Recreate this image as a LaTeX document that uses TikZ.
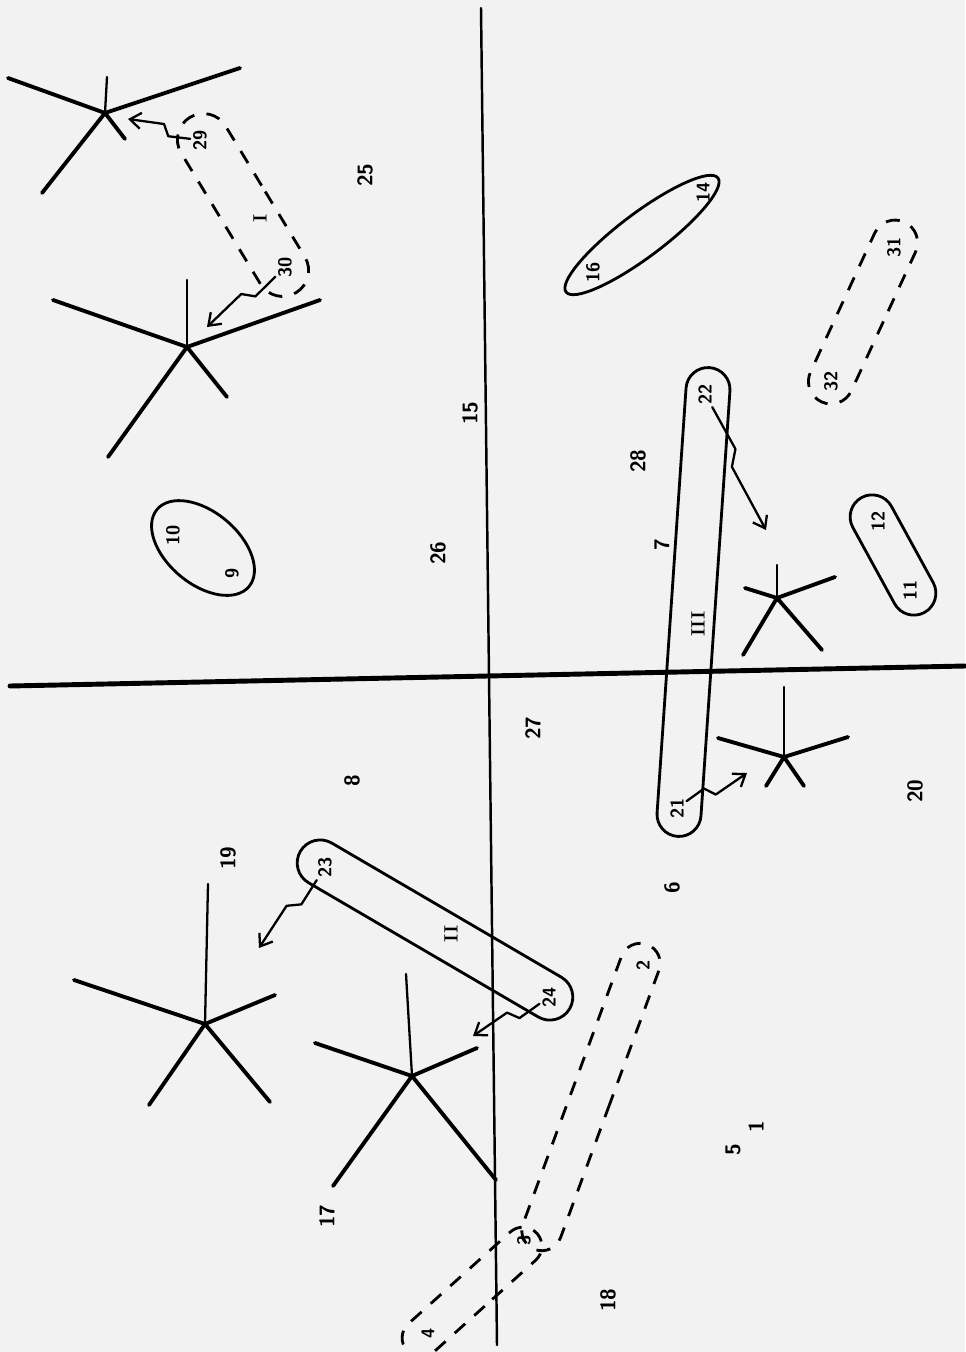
\documentclass[tikz,border=0pt]{standalone}
\usepackage{tikz}
\usetikzlibrary{arrows.meta,calc,shapes.misc,shapes.geometric}

\begin{document}
\begin{tikzpicture}[x=0.02cm, y=-0.02cm,
  axis/.style={line width=1.4pt, line cap=round},
  mainaxis/.style={line width=2.8pt, line cap=round},
  ray/.style={line width=2.2pt, line cap=round},
  thinray/.style={line width=1.3pt, line cap=round},
  loop/.style={draw, line width=1.6pt, shape=rounded rectangle, inner sep=0pt},
  oval/.style={draw, line width=1.6pt, shape=ellipse, inner sep=0pt},
  dashloop/.style={loop, dash pattern=on 8pt off 7pt},
  tag/.style={font=\sffamily\bfseries\large, rotate=90, inner sep=1pt},
  hand/.style={font=\sffamily\bfseries\fontsize{10.5}{12}\selectfont, rotate=90, inner sep=1.5pt},
  roman/.style={font=\rmfamily\bfseries\fontsize{11}{13}\selectfont, rotate=90, inner sep=1pt},
  zap/.style={-{Straight Barb[length=2.2mm, width=3.2mm]}, line width=1.3pt,
    line cap=round, line join=round,
    to path={-- ($(\tikztostart)!.42!(\tikztotarget)!3pt!90:(\tikztotarget)$)
      -- ($(\tikztostart)!.52!(\tikztotarget)!3pt!-90:(\tikztotarget)$)
      -- (\tikztotarget)}}
]
\useasboundingbox (0,0) rectangle (965,1352);
\fill[black!5] (0,0) rectangle (965,1352);

% axes
\coordinate (west) at (10,686);
\coordinate (east) at (965,666);
\coordinate (north) at (481,8);
\coordinate (south) at (497,1345);
\draw[mainaxis] (west) -- (east);
\draw[axis] (north) -- (south);

% groupings
\node[dashloop, minimum width=4.1cm, minimum height=1.04cm, rotate=-58.8] (loopI) at (243,205) {};
\node[loop, minimum width=6.24cm, minimum height=0.92cm, rotate=-30.3] (loopII) at (435,930) {};
\node[loop, minimum width=9.4cm, minimum height=0.88cm, rotate=-93.9] (loopIII) at (693.5,602) {};
\node[dashloop, minimum width=6.5cm, minimum height=0.8cm, rotate=-110.2] (loopA) at (591,1097) {};
\node[dashloop, minimum width=3.5cm, minimum height=0.76cm, rotate=-138] (loopB) at (472,1292) {};
\node[dashloop, minimum width=3.96cm, minimum height=0.9cm, rotate=-114.8] (loopC) at (863,312) {};
\node[oval, minimum width=3.8cm, minimum height=0.88cm, rotate=36.9] (loopD) at (642,235) {};
\node[oval, minimum width=2.4cm, minimum height=1.44cm, rotate=-40] (loopE) at (203,548) {};
\node[loop, minimum width=2.62cm, minimum height=0.88cm, rotate=-61.3] (loopF) at (893,555) {};

% points inside groupings
\node[hand] (n29) at (200,140) {29};
\node[hand] (n30) at (285,267) {30};
\node[roman] (rI) at (260,218) {I};
\node[hand] (n16) at (593,272) {16};
\node[hand] (n14) at (703,192) {14};
\node[hand] (n22) at (705,394) {22};
\node[hand] (n21) at (677,808) {21};
\node[roman] (rIII) at (698,624) {III};
\node[hand] (n32) at (831,381) {32};
\node[hand] (n31) at (894,247) {31};
\node[hand] (n12) at (878,521) {12};
\node[hand] (n11) at (910,590) {11};
\node[hand] (n10) at (173,535) {10};
\node[hand] (n9) at (232,573) {9};
\node[hand] (n23) at (325,867) {23};
\node[hand] (n24) at (549,997) {24};
\node[roman] (rII) at (451,934) {II};
\node[hand] (n2) at (643,965) {2};
\node[hand] (n3) at (524,1240) {3};
\node[hand] (n4) at (428,1333) {4};

% free points
\node[tag] (n25) at (365,175) {25};
\node[tag] (n15) at (470,413) {15};
\node[tag] (n26) at (438,553) {26};
\node[tag] (n28) at (638,461) {28};
\node[tag] (n7) at (662,545) {7};
\node[tag] (n8) at (352,781) {8};
\node[tag] (n27) at (533,728) {27};
\node[tag] (n19) at (228,858) {19};
\node[tag] (n6) at (672,888) {6};
\node[tag] (n20) at (915,791) {20};
\node[tag] (n17) at (327,1216) {17};
\node[tag] (n18) at (608,1300) {18};
\node[tag] (n5) at (733,1150) {5};
\node[tag] (n1) at (756,1127) {1};

% stars
\coordinate (sA) at (105,113);
\draw[ray] (sA) -- (8,78) (sA) -- (240,68) (sA) -- (125,139) (sA) -- (42,193);
\draw[thinray] (sA) -- (107,77);
\coordinate (sB) at (187,347);
\draw[ray] (sB) -- (53,300) (sB) -- (320,300) (sB) -- (227,397) (sB) -- (108,457);
\draw[thinray] (sB) -- (187,280);
\coordinate (sC) at (777,598);
\draw[ray] (sC) -- (745,588) (sC) -- (835,577) (sC) -- (822,650) (sC) -- (743,655);
\draw[thinray] (sC) -- (777,565);
\coordinate (sD) at (784,757);
\draw[ray] (sD) -- (718,738) (sD) -- (848,737) (sD) -- (804,786) (sD) -- (766,786);
\draw[thinray] (sD) -- (784,687);
\coordinate (sE) at (205,1024);
\draw[ray] (sE) -- (74,980) (sE) -- (275,995) (sE) -- (149,1105) (sE) -- (270,1102);
\draw[thinray] (sE) -- (208,884);
\coordinate (sF) at (412,1076);
\draw[ray] (sF) -- (315,1043) (sF) -- (477,1048) (sF) -- (333,1186) (sF) -- (496,1180);
\draw[thinray] (sF) -- (406,974);

% arrows to stars
\coordinate (tipA) at (128,119);
\coordinate (tipB) at (207,327);
\coordinate (tipC) at (766,530);
\coordinate (tipD) at (747,773);
\coordinate (tipE) at (259,948);
\coordinate (tipF) at (473,1036);
\draw[zap] (n29) to (tipA);
\draw[zap] (n30) to (tipB);
\draw[zap] (n22) to (tipC);
\draw[zap] (n21) to (tipD);
\draw[zap] (n23) to (tipE);
\draw[zap] (n24) to (tipF);
\end{tikzpicture}
\end{document}
